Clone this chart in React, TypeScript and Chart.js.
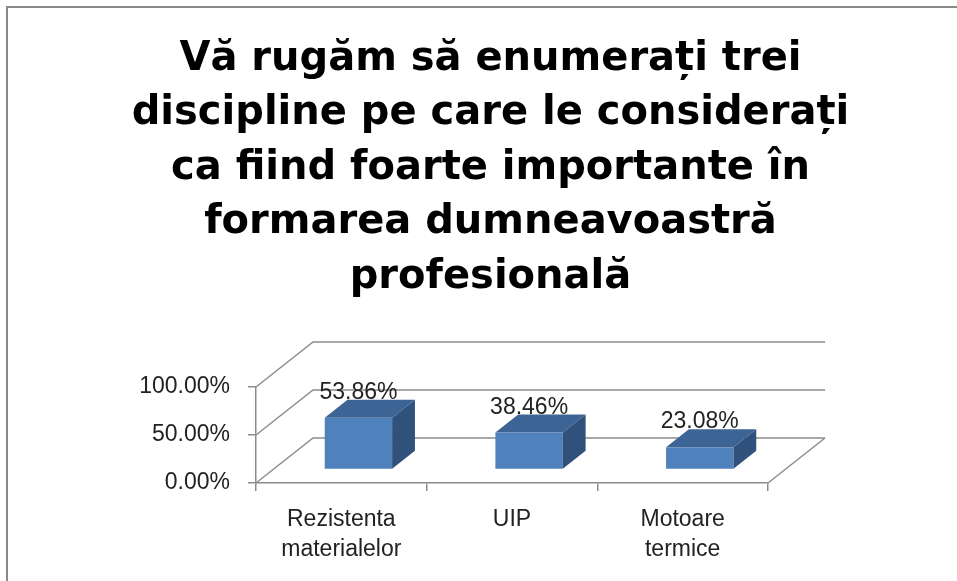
import React, { useEffect, useRef } from "react";
import { Chart, registerables } from "chart.js";

Chart.register(...registerables);

const titleLines = [
  "Vă rugăm să enumerați trei",
  "discipline pe care le considerați",
  "ca fiind foarte importante în",
  "formarea dumneavoastră",
  "profesională",
];
const categories: (string | string[])[] = [
  ["Rezistenta", "materialelor"],
  "UIP",
  ["Motoare", "termice"],
];
const values = [53.86, 38.46, 23.08];
const yTicks = [0, 50, 100];

const fmt = (v: number) => v.toFixed(2) + "%";

const DEPTH_X = 57;
const DEPTH_Y = -45;
const BAR_FRONT = 0.3;
const BAR_BACK = 0.7;
const LINE = "#8c8c8c";

const framePlugin = {
  id: "frame",
  beforeDraw(chart: any) {
    const ctx = chart.ctx;
    ctx.save();
    ctx.fillStyle = "#898989";
    ctx.fillRect(6, 6, 2, chart.height);
    ctx.fillRect(6, 6, chart.width, 2);
    ctx.restore();
  },
};

const wallsPlugin = {
  id: "walls3d",
  beforeDatasetsDraw(chart: any) {
    const { ctx, chartArea } = chart;
    const y = chart.scales.y;
    const { left, right, bottom } = chartArea;
    ctx.save();
    ctx.strokeStyle = LINE;
    ctx.lineWidth = 1.5;
    ctx.beginPath();
    yTicks.forEach((v) => {
      const py = y.getPixelForValue(v);
      ctx.moveTo(left, py);
      ctx.lineTo(left + DEPTH_X, py + DEPTH_Y);
      ctx.lineTo(right + DEPTH_X, py + DEPTH_Y);
    });
    ctx.moveTo(right, bottom);
    ctx.lineTo(right + DEPTH_X, bottom + DEPTH_Y);
    ctx.stroke();
    ctx.restore();
  },
  afterDatasetsDraw(chart: any) {
    const { ctx } = chart;
    const meta = chart.getDatasetMeta(0);
    const ddx = DEPTH_X * (BAR_BACK - BAR_FRONT);
    const ddy = DEPTH_Y * (BAR_BACK - BAR_FRONT);
    ctx.save();
    meta.data.forEach((el: any, i: number) => {
      const x0 = el.x - el.width / 2 + DEPTH_X * BAR_FRONT;
      const x1 = el.x + el.width / 2 + DEPTH_X * BAR_FRONT;
      const yT = el.y + DEPTH_Y * BAR_FRONT;
      const yB = el.base + DEPTH_Y * BAR_FRONT;
      // front
      ctx.fillStyle = "#4f81bd";
      ctx.fillRect(x0, yT, x1 - x0, yB - yT);
      // top
      ctx.fillStyle = "#3c6494";
      ctx.beginPath();
      ctx.moveTo(x0, yT);
      ctx.lineTo(x0 + ddx, yT + ddy);
      ctx.lineTo(x1 + ddx, yT + ddy);
      ctx.lineTo(x1, yT);
      ctx.closePath();
      ctx.fill();
      // side
      ctx.fillStyle = "#30517c";
      ctx.beginPath();
      ctx.moveTo(x1, yT);
      ctx.lineTo(x1 + ddx, yT + ddy);
      ctx.lineTo(x1 + ddx, yB + ddy);
      ctx.lineTo(x1, yB);
      ctx.closePath();
      ctx.fill();
      // label
      ctx.fillStyle = "#222";
      ctx.font = "23px 'Liberation Sans', Arial, sans-serif";
      ctx.textAlign = "center";
      ctx.textBaseline = "alphabetic";
      ctx.fillText(fmt(values[i]), (x0 + x1) / 2, yT + ddy - 1);
    });
    ctx.restore();
  },
};

export default function App() {
  const ref = useRef<HTMLCanvasElement | null>(null);
  useEffect(() => {
    if (!ref.current) return;
    const chart = new Chart(ref.current, {
      type: "bar",
      data: {
        labels: categories,
        datasets: [
          {
            data: values,
            backgroundColor: "rgba(0,0,0,0)",
            borderWidth: 0,
            categoryPercentage: 1,
            barPercentage: 0.395,
          },
        ],
      },
      options: {
        animation: false,
        responsive: false,
        layout: { padding: { top: 0, left: 24, right: 0, bottom: 0 } },
        plugins: {
          legend: { display: false },
          tooltip: { enabled: false },
          title: {
            display: true,
            text: titleLines,
            color: "#000",
            font: { family: "'DejaVu Sans', sans-serif", weight: "bold", size: 40, lineHeight: 1.3625 },
            padding: { top: 32, bottom: 82.5 },
          },
        },
        scales: {
          x: {
            grid: { drawOnChartArea: false, drawTicks: true, tickLength: 8, color: LINE, lineWidth: 1.5 },
            border: { display: true, color: LINE, width: 1.5 },
            ticks: {
              color: "#222",
              font: { family: "'Liberation Sans', Arial, sans-serif", size: 23, lineHeight: 1.33 },
              padding: 13,
              maxRotation: 0,
              autoSkip: false,
            },
            afterFit: (s: any) => {
              s.height = 98;
            },
          },
          y: {
            min: 0,
            max: 100,
            afterBuildTicks: (s: any) => {
              s.ticks = yTicks.map((v) => ({ value: v }));
            },
            grid: { drawOnChartArea: false, drawTicks: true, tickLength: 8, color: LINE, lineWidth: 1.5 },
            border: { display: true, color: LINE, width: 1.5 },
            ticks: {
              color: "#222",
              font: { family: "'Liberation Sans', Arial, sans-serif", size: 23 },
              padding: 18,
              callback: (v: any) => fmt(Number(v)),
            },
            afterFit: (s: any) => {
              s.width = 232;
            },
          },
          y2: {
            type: "linear",
            axis: "y",
            position: "right",
            display: true,
            grid: { display: false },
            border: { display: false },
            ticks: { display: false },
            afterFit: (s: any) => {
              s.width = 189;
            },
          },
        },
      } as any,
      plugins: [framePlugin, wallsPlugin],
    });
    return () => chart.destroy();
  }, []);
  return (
    <div style={{ position: "fixed", left: 0, top: 0, width: 957, height: 581, background: "#fff" }}>
      <canvas ref={ref} width={957} height={581} style={{ display: "block" }} />
    </div>
  );
}
